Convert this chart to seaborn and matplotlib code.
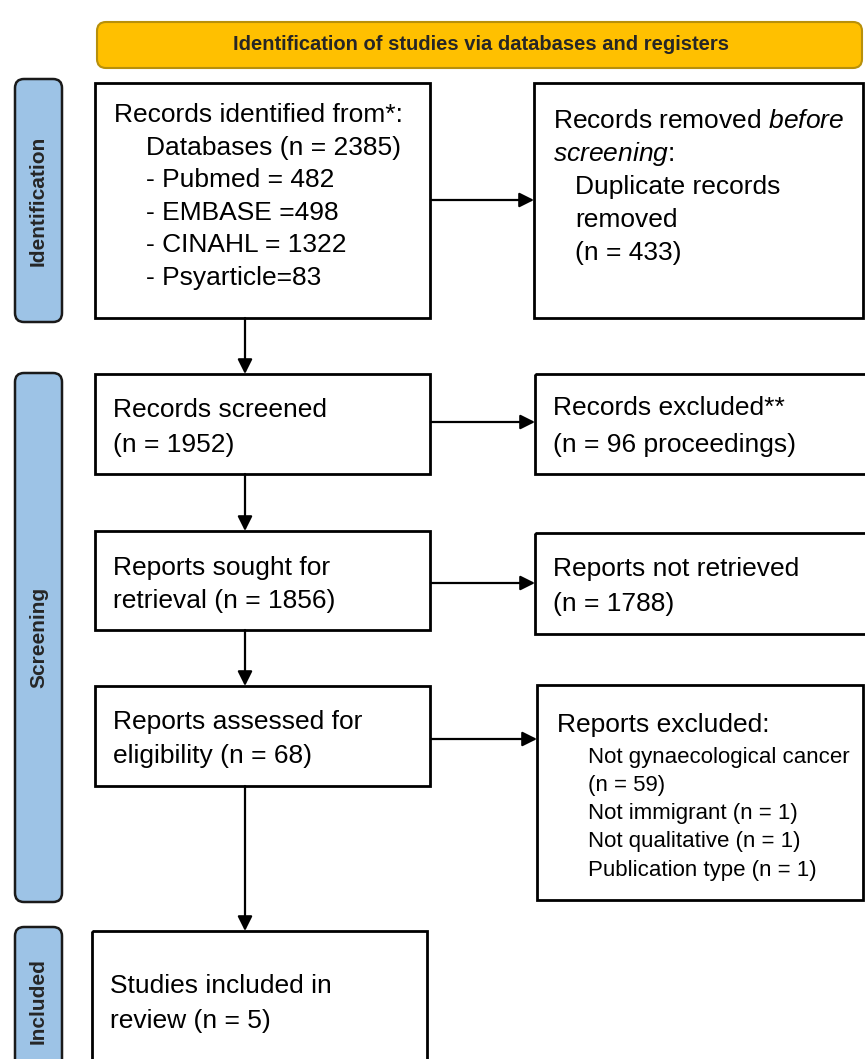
import matplotlib
matplotlib.use("Agg")
import matplotlib.pyplot as plt
import seaborn as sns
from matplotlib.patches import FancyBboxPatch, Rectangle

# counts shown in the flow diagram
n_databases = 2385
db_names = ["Pubmed", "EMBASE", "CINAHL", "Psyarticle"]
db_counts = [482, 498, 1322, 83]
n_duplicates = 433
n_screened = 1952
n_excluded = 96
n_sought = 1856
n_not_retrieved = 1788
n_assessed = 68
excl_reasons = ["Not gynaecological cancer", "Not immigrant", "Not qualitative", "Publication type"]
excl_counts = [59, 1, 1, 1]
n_included = 5

stages = ["Identification", "Screening", "Included"]

sns.set_theme(style="white")
plt.rcParams["font.family"] = ["Liberation Sans", "DejaVu Sans"]
plt.rcParams["mathtext.fontset"] = "custom"
plt.rcParams["mathtext.rm"] = "Liberation Sans"
plt.rcParams["mathtext.it"] = "Liberation Sans:italic"

W, H = 865, 1059
fig = plt.figure(figsize=(W / 100, H / 100), dpi=100)
ax = fig.add_axes([0, 0, 1, 1])
ax.set_xlim(0, W)
ax.set_ylim(H, 0)
ax.axis("off")

FS = 19
LW = 2


def box(x0, y0, x1, y1):
    ax.add_patch(Rectangle((x0, y0), x1 - x0, y1 - y0, fill=False, ec="black", lw=LW))


def line(x, y, s, size=FS):
    ax.text(x, y + 3, s, fontsize=size, va="center", ha="left", color="black")


def arrow(p0, p1):
    ax.annotate("", xy=p1, xytext=p0,
                arrowprops=dict(arrowstyle="-|>", color="black", lw=1.6,
                                mutation_scale=22, shrinkA=0, shrinkB=0))


# banner
ax.add_patch(FancyBboxPatch((97, 22), 765, 46, boxstyle="round,pad=0,rounding_size=9",
                            fc="#FFC000", ec="#B8900A", lw=1.5))
ax.text(481, 45, "Identification of studies via databases and registers", fontsize=14.5,
        fontweight="bold", ha="center", va="center")

# stage bars on the left
bars = [(79, 322), (373, 902), (927, 1075)]
for lab, (t, b) in zip(stages, bars):
    ax.add_patch(FancyBboxPatch((15, t), 47, b - t, boxstyle="round,pad=0,rounding_size=9",
                                fc="#9DC3E6", ec="#1a1a1a", lw=1.8))
    ax.text(38.5, (t + b) / 2, lab, rotation=90, fontsize=15, fontweight="bold",
            ha="center", va="center")

# identification
box(95, 83, 430, 318)
line(114, 112, "Records identified from*:")
line(146, 144.5, f"Databases (n = {n_databases})")
db_fmt = ["- {} = {}", "- {} ={}", "- {} = {}", "- {}={}"]
for i, (nm, c) in enumerate(zip(db_names, db_counts)):
    line(146, 177 + 32.5 * i, db_fmt[i].format(nm, c))

box(534, 83, 863, 318)
line(553, 118, r"Records removed $\it{before}$")
line(553, 151, r"$\it{screening}$:")
line(575, 184, "Duplicate records")
line(575, 217, "removed")
line(575, 250, f"(n = {n_duplicates})")

# screening
box(95, 374, 430, 474)
line(113, 407, "Records screened")
line(113, 442, f"(n = {n_screened})")

box(535, 374, 870, 474)
line(553, 405, "Records excluded**")
line(553, 442, f"(n = {n_excluded} proceedings)")

box(95, 531, 430, 630)
line(113, 565, "Reports sought for")
line(113, 598, f"retrieval (n = {n_sought})")

box(535, 533, 870, 634)
line(553, 566, "Reports not retrieved")
line(553, 601, f"(n = {n_not_retrieved})")

box(95, 686, 430, 786)
line(113, 719, "Reports assessed for")
line(113, 753, f"eligibility (n = {n_assessed})")

box(537, 685, 863, 900)
line(557, 722, "Reports excluded:")
sub = [excl_reasons[0], f"(n = {excl_counts[0]})"] + \
      [f"{r} (n = {c})" for r, c in zip(excl_reasons[1:], excl_counts[1:])]
for i, s in enumerate(sub):
    line(588, 754 + 28.3 * i, s, size=16)

# included
box(92, 931, 427, 1080)
line(110, 983, "Studies included in")
line(110, 1018, f"review (n = {n_included})")

# arrows
for y0, y1 in [(318, 374), (474, 531), (630, 686), (786, 931)]:
    arrow((245, y0), (245, y1))
for y, x1 in [(200, 534), (422, 535), (583, 535), (739, 537)]:
    arrow((431, y), (x1, y))

fig.savefig("out.png", dpi=100)
